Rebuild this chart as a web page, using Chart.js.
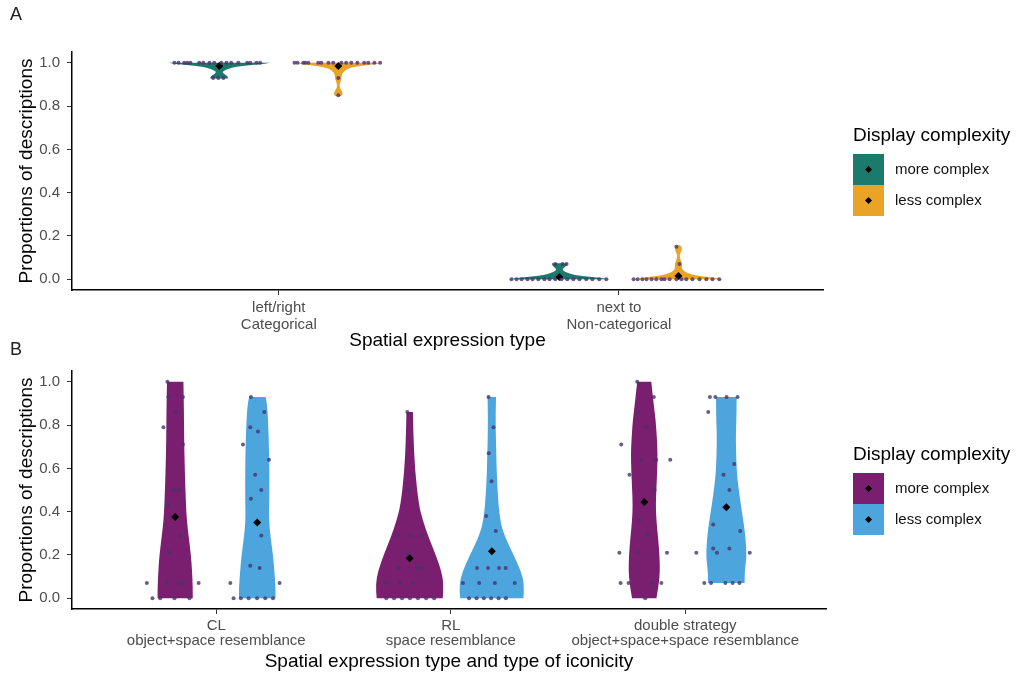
<!DOCTYPE html>
<html>
<head>
<meta charset="utf-8">
<script src="https://cdn.jsdelivr.net/npm/chart.js@4.4.1/dist/chart.umd.min.js"></script>
<style>
  body { margin: 0; background: #fff; width: 1023px; height: 673px; overflow: hidden; position: relative; }
  canvas { position: absolute; left: 0; }
  #chartA { top: 0; }
  #chartB { top: 338px; }
</style>
</head>
<body>
<canvas id="chartA" width="1023" height="352"></canvas>
<canvas id="chartB" width="1023" height="335"></canvas>
<script>
const groupLabels = ["more complex", "less complex"];
const dodge = 0.175;

// ---- panel A ----
const catsA = [["left/right", "Categorical"], ["next to", "Non-categorical"]];
const colorsA = ["#1b7a6b", "#e9a327"];
const meanA_more = [0.985, 0.01];
const meanA_less = [0.985, 0.015];

const a1MoreVals = [1, 1, 1, 1, 1, 1, 1, 1, 1, 1, 1, 1, 1, 1, 1, 1, 1, 0.93, 0.93, 0.93];
const a1MoreJit = [-0.132, -0.12, -0.103, -0.094, -0.085, -0.059, -0.047, -0.029, -0.015, 0.006, 0.021, 0.035, 0.056, 0.082, 0.091, 0.109, 0.12, -0.018, -0.003, 0.012];
const a1MoreLev = [0.928, 0.935, 0.945, 0.955, 0.962, 0.972, 0.981, 0.988, 0.994, 1];
const a1MoreWid = [0.026, 0.026, 0.018, 0.009, 0.012, 0.025, 0.045, 0.08, 0.125, 0.15];

const a1LessVals = [1, 1, 1, 1, 1, 1, 1, 1, 1, 1, 1, 1, 1, 1, 1, 1, 1, 0.93, 0.85];
const a1LessJit = [-0.129, -0.12, -0.103, -0.097, -0.088, -0.059, -0.05, -0.029, -0.015, 0.009, 0.023, 0.038, 0.056, 0.076, 0.088, 0.106, 0.123, 0, 0];
const a1LessLev = [0.845, 0.85, 0.86, 0.87, 0.88, 0.89, 0.9, 0.915, 0.93, 0.945, 0.96, 0.972, 0.981, 0.988, 0.994, 1];
const a1LessWid = [0.006, 0.012, 0.013, 0.01, 0.006, 0.004, 0.004, 0.007, 0.01, 0.01, 0.016, 0.026, 0.045, 0.075, 0.11, 0.129];

const a2MoreVals = [0, 0, 0, 0, 0, 0, 0, 0, 0, 0, 0, 0, 0, 0, 0, 0, 0, 0.07, 0.07, 0.07];
const a2MoreJit = [-0.141, -0.126, -0.111, -0.094, -0.079, -0.062, -0.044, -0.029, -0.012, 0.006, 0.023, 0.041, 0.059, 0.079, 0.097, 0.117, 0.138, -0.012, 0.009, 0.021];
const a2MoreLev = [0, 0.006, 0.012, 0.019, 0.028, 0.038, 0.045, 0.055, 0.065, 0.074];
const a2MoreWid = [0.147, 0.125, 0.08, 0.045, 0.025, 0.012, 0.009, 0.015, 0.022, 0.022];

const a2LessVals = [0, 0, 0, 0, 0, 0, 0, 0, 0, 0, 0, 0, 0, 0, 0, 0, 0, 0.07, 0.15];
const a2LessJit = [-0.132, -0.12, -0.106, -0.094, -0.079, -0.065, -0.05, -0.041, -0.026, -0.006, 0.009, 0.023, 0.041, 0.062, 0.082, 0.1, 0.12, 0.003, -0.006];
const a2LessLev = [0, 0.006, 0.012, 0.019, 0.028, 0.038, 0.05, 0.065, 0.075, 0.085, 0.1, 0.115, 0.13, 0.14, 0.15, 0.157];
const a2LessWid = [0.132, 0.11, 0.075, 0.045, 0.026, 0.016, 0.01, 0.01, 0.01, 0.007, 0.004, 0.004, 0.009, 0.01, 0.009, 0.004];

// ---- panel B ----
const catsB = [["CL", "object+space resemblance"], ["RL", "space resemblance"], ["double strategy", "object+space+space resemblance"]];
const colorsB = ["#7a1f6f", "#4ca5dc"];
const meanB_more = [0.375, 0.185, 0.445];
const meanB_less = [0.35, 0.217, 0.42];

const b1MoreVals = [1, 0.93, 0.93, 0.86, 0.79, 0.71, 0.5, 0.5, 0.43, 0.29, 0.21, 0.07, 0.07, 0.07, 0.07, 0.07, 0, 0, 0, 0];
const b1MoreJit = [-0.033, -0.029, 0.033, 0.003, -0.05, 0.033, -0.007, 0.017, -0.031, 0.024, -0.024, -0.121, -0.035, 0.014, 0.033, 0.1, -0.097, -0.064, -0.003, 0.061];
const b1MoreLev = [0, 0.05, 0.125, 0.2, 0.28, 0.355, 0.43, 0.585, 0.74, 0.89, 1];
const b1MoreWid = [0.075, 0.075, 0.072, 0.067, 0.058, 0.05, 0.046, 0.041, 0.038, 0.037, 0.035];

const b1LessVals = [0.93, 0.86, 0.79, 0.77, 0.71, 0.64, 0.57, 0.5, 0.46, 0.29, 0.15, 0.14, 0.07, 0.07, 0, 0, 0, 0, 0, 0];
const b1LessJit = [-0.027, 0.03, -0.03, 0.003, -0.061, 0.05, -0.009, 0.017, -0.027, 0.017, -0.03, 0.01, -0.115, 0.095, -0.101, -0.07, -0.037, -0.001, 0.034, 0.067];
const b1LessLev = [0, 0.05, 0.125, 0.2, 0.28, 0.355, 0.43, 0.585, 0.74, 0.89, 0.93];
const b1LessWid = [0.078, 0.078, 0.073, 0.067, 0.057, 0.05, 0.051, 0.052, 0.049, 0.043, 0.035];

const b2MoreVals = [0.86, 0.57, 0.5, 0.29, 0.29, 0.29, 0.21, 0.14, 0.14, 0.14, 0.07, 0.07, 0.07, 0, 0, 0, 0, 0, 0, 0];
const b2MoreJit = [-0.01, 0.014, -0.01, -0.053, 0.004, 0.05, -0.007, -0.048, 0.03, 0.05, -0.1, -0.041, 0.016, -0.1, -0.067, -0.033, 0.001, 0.035, 0.07, 0.104];
const b2MoreLev = [0, 0.065, 0.125, 0.2, 0.28, 0.355, 0.43, 0.585, 0.74, 0.86];
const b2MoreWid = [0.141, 0.145, 0.135, 0.111, 0.081, 0.057, 0.039, 0.023, 0.016, 0.014];

const b2LessVals = [0.93, 0.79, 0.67, 0.54, 0.38, 0.31, 0.14, 0.14, 0.14, 0.14, 0.07, 0.07, 0.07, 0.07, 0, 0, 0, 0, 0, 0];
const b2LessJit = [-0.014, 0.007, -0.013, -0.001, -0.024, 0.017, -0.063, -0.016, 0.031, 0.059, -0.123, -0.054, 0.013, 0.098, -0.097, -0.065, -0.034, -0.003, 0.029, 0.06];
const b2LessLev = [0, 0.065, 0.125, 0.2, 0.28, 0.355, 0.51, 0.665, 0.82, 0.93];
const b2LessWid = [0.135, 0.139, 0.124, 0.093, 0.057, 0.035, 0.023, 0.019, 0.016, 0.018];

const b3MoreVals = [1, 0.93, 0.86, 0.79, 0.71, 0.64, 0.64, 0.64, 0.57, 0.5, 0.36, 0.29, 0.21, 0.21, 0.21, 0.07, 0.07, 0.07, 0.07, 0];
const b3MoreJit = [-0.03, 0.041, -0.03, 0.009, -0.098, -0.013, 0.051, 0.111, -0.063, 0.044, -0.02, 0.016, -0.106, -0.027, 0.097, -0.101, -0.067, 0.037, 0.073, 0.004];
const b3MoreLev = [0, 0.065, 0.125, 0.2, 0.28, 0.355, 0.43, 0.51, 0.585, 0.665, 0.74, 0.82, 0.89, 1];
const b3MoreWid = [0.052, 0.062, 0.067, 0.065, 0.059, 0.052, 0.049, 0.052, 0.055, 0.057, 0.054, 0.049, 0.041, 0.03];

const b3LessVals = [0.93, 0.93, 0.93, 0.93, 0.86, 0.62, 0.57, 0.5, 0.34, 0.31, 0.21, 0.23, 0.21, 0.23, 0.21, 0.07, 0.07, 0.07, 0.07, 0.07];
const b3LessJit = [-0.07, -0.047, 0.001, 0.048, -0.077, 0.034, -0.012, 0.013, -0.056, 0.059, -0.128, -0.056, -0.04, 0.013, 0.1, -0.094, -0.065, -0.004, 0.027, 0.056];
const b3LessLev = [0.07, 0.11, 0.155, 0.2, 0.28, 0.355, 0.43, 0.51, 0.585, 0.74, 0.82, 0.93];
const b3LessWid = [0.078, 0.078, 0.082, 0.086, 0.082, 0.073, 0.062, 0.052, 0.044, 0.04, 0.043, 0.044];

const FONT = "'Liberation Sans', Arial, sans-serif";

function violin(cat, side, vals, jit, lev, wid, color) {
  return { x: cat + side * dodge, vals, jit, lev, wid, color };
}

const violinsA = [
  violin(1, -1, a1MoreVals, a1MoreJit, a1MoreLev, a1MoreWid, colorsA[0]),
  violin(1, 1, a1LessVals, a1LessJit, a1LessLev, a1LessWid, colorsA[1]),
  violin(2, -1, a2MoreVals, a2MoreJit, a2MoreLev, a2MoreWid, colorsA[0]),
  violin(2, 1, a2LessVals, a2LessJit, a2LessLev, a2LessWid, colorsA[1])
];
const violinsB = [
  violin(1, -1, b1MoreVals, b1MoreJit, b1MoreLev, b1MoreWid, colorsB[0]),
  violin(1, 1, b1LessVals, b1LessJit, b1LessLev, b1LessWid, colorsB[1]),
  violin(2, -1, b2MoreVals, b2MoreJit, b2MoreLev, b2MoreWid, colorsB[0]),
  violin(2, 1, b2LessVals, b2LessJit, b2LessLev, b2LessWid, colorsB[1]),
  violin(3, -1, b3MoreVals, b3MoreJit, b3MoreLev, b3MoreWid, colorsB[0]),
  violin(3, 1, b3LessVals, b3LessJit, b3LessLev, b3LessWid, colorsB[1])
];

function smoothSide(ctx, pts) {
  ctx.lineTo(pts[0][0], pts[0][1]);
  for (let i = 1; i < pts.length - 1; i++) {
    ctx.quadraticCurveTo(pts[i][0], pts[i][1], (pts[i][0] + pts[i + 1][0]) / 2, (pts[i][1] + pts[i + 1][1]) / 2);
  }
  ctx.lineTo(pts[pts.length - 1][0], pts[pts.length - 1][1]);
}

// violin bodies, drawn under the points
const violinPlugin = {
  id: "violins",
  beforeDatasetsDraw(chart, args, opts) {
    const { ctx, scales: { x, y } } = chart;
    opts.items.forEach(v => {
      const right = v.lev.map((l, i) => [x.getPixelForValue(v.x + v.wid[i]), y.getPixelForValue(l)]);
      const left = v.lev.map((l, i) => [x.getPixelForValue(v.x - v.wid[i]), y.getPixelForValue(l)]).reverse();
      ctx.save();
      ctx.beginPath();
      ctx.moveTo(right[0][0], right[0][1]);
      smoothSide(ctx, right);
      smoothSide(ctx, left);
      ctx.closePath();
      ctx.fillStyle = v.color;
      ctx.fill();
      ctx.restore();
    });
  }
};

// ggplot style legend with key boxes + mean diamond, and panel letter
const sideLegend = {
  id: "sideLegend",
  afterDraw(chart, args, opts) {
    const { ctx, chartArea } = chart;
    const mid = (chartArea.top + chartArea.bottom) / 2;
    const left = 853;
    const box = 31;
    const top = mid - 17;
    ctx.save();
    ctx.textBaseline = "middle";
    ctx.textAlign = "left";
    ctx.fillStyle = "#000";
    ctx.font = "19px " + FONT;
    ctx.fillText("Display complexity", left, mid - 35);
    opts.colors.forEach((c, i) => {
      const by = top + i * box;
      ctx.fillStyle = c;
      ctx.fillRect(left, by, box, box);
      const cx = left + box / 2, cy = by + box / 2;
      ctx.fillStyle = "#000";
      ctx.beginPath();
      ctx.moveTo(cx, cy - 3.5);
      ctx.lineTo(cx + 3.5, cy);
      ctx.lineTo(cx, cy + 3.5);
      ctx.lineTo(cx - 3.5, cy);
      ctx.closePath();
      ctx.fill();
      ctx.fillStyle = "#111";
      ctx.font = "15px " + FONT;
      ctx.fillText(groupLabels[i], left + box + 11, cy);
    });
    ctx.fillStyle = "#222";
    ctx.font = "18px " + FONT;
    ctx.fillText(opts.letter, 10, opts.letterY);
    ctx.restore();
  }
};

function pointData(list) {
  const out = [];
  list.forEach(v => v.vals.forEach((val, i) => out.push({ x: v.x + v.jit[i], y: val })));
  return out;
}

function meanData(more, less) {
  const out = [];
  more.forEach((m, i) => {
    out.push({ x: i + 1 - dodge, y: m });
    out.push({ x: i + 1 + dodge, y: less[i] });
  });
  return out;
}

function makeChart(id, cfg) {
  const yTicks = [0, 0.2, 0.4, 0.6, 0.8, 1.0];
  return new Chart(document.getElementById(id), {
    type: "scatter",
    data: {
      datasets: [
        {
          data: pointData(cfg.violins),
          pointRadius: 2,
          pointHoverRadius: 2,
          backgroundColor: "rgba(72,50,110,0.8)",
          borderWidth: 0
        },
        {
          data: meanData(cfg.meanMore, cfg.meanLess),
          pointStyle: "rectRot",
          pointRadius: 4,
          backgroundColor: "#000",
          borderColor: "#000",
          borderWidth: 0
        }
      ]
    },
    options: {
      responsive: false,
      animation: false,
      devicePixelRatio: 1,
      layout: { padding: { top: cfg.padTop, right: cfg.padRight, bottom: 0, left: 0 } },
      plugins: {
        legend: { display: false },
        tooltip: { enabled: false },
        violins: { items: cfg.violins },
        sideLegend: { colors: cfg.colors, letter: cfg.letter, letterY: cfg.letterY }
      },
      scales: {
        x: {
          type: "linear",
          min: cfg.xMin,
          max: cfg.xMax,
          afterBuildTicks: s => { s.ticks = cfg.cats.map((c, i) => ({ value: i + 1 })); },
          afterFit: s => { s.height = cfg.axisH; },
          ticks: {
            autoSkip: false,
            maxRotation: 0,
            padding: cfg.tickPad,
            color: "#4d4d4d",
            font: { family: FONT, size: 15, lineHeight: cfg.tickLH },
            callback: (v, i) => cfg.cats[i]
          },
          grid: { drawOnChartArea: false, drawTicks: true, tickLength: 5, color: "#333" },
          border: { display: true, color: "#000", width: 1.5 },
          title: {
            display: true,
            text: cfg.xTitle,
            color: "#000",
            font: { family: FONT, size: 19 },
            padding: { top: 0, bottom: 0 }
          }
        },
        y: {
          min: -0.05,
          max: 1.05,
          afterBuildTicks: s => { s.ticks = yTicks.map(v => ({ value: v })); },
          afterFit: s => { s.width = 72; },
          ticks: {
            padding: 7,
            color: "#4d4d4d",
            font: { family: FONT, size: 15 },
            callback: v => v.toFixed(1)
          },
          grid: { drawOnChartArea: false, drawTicks: true, tickLength: 5, color: "#333" },
          border: { display: true, color: "#000", width: 1.5 },
          title: {
            display: true,
            text: "Proportions of descriptions",
            color: "#000",
            font: { family: FONT, size: 19 },
            padding: { top: 15, bottom: 0 }
          }
        }
      }
    },
    plugins: [violinPlugin, sideLegend]
  });
}

makeChart("chartA", {
  violins: violinsA, cats: catsA, colors: colorsA,
  meanMore: meanA_more, meanLess: meanA_less,
  xMin: 0.392, xMax: 2.6, padTop: 52, padRight: 200, axisH: 62,
  tickPad: 5, tickLH: 1.1,
  xTitle: "Spatial expression type", letter: "A", letterY: 15
});

makeChart("chartB", {
  violins: violinsB, cats: catsB, colors: colorsB,
  meanMore: meanB_more, meanLess: meanB_less,
  xMin: 0.385, xMax: 3.6, padTop: 33, padRight: 197, axisH: 64,
  tickPad: 4, tickLH: 1.0,
  xTitle: "Spatial expression type and type of iconicity", letter: "B", letterY: 12
});
</script>
</body>
</html>
